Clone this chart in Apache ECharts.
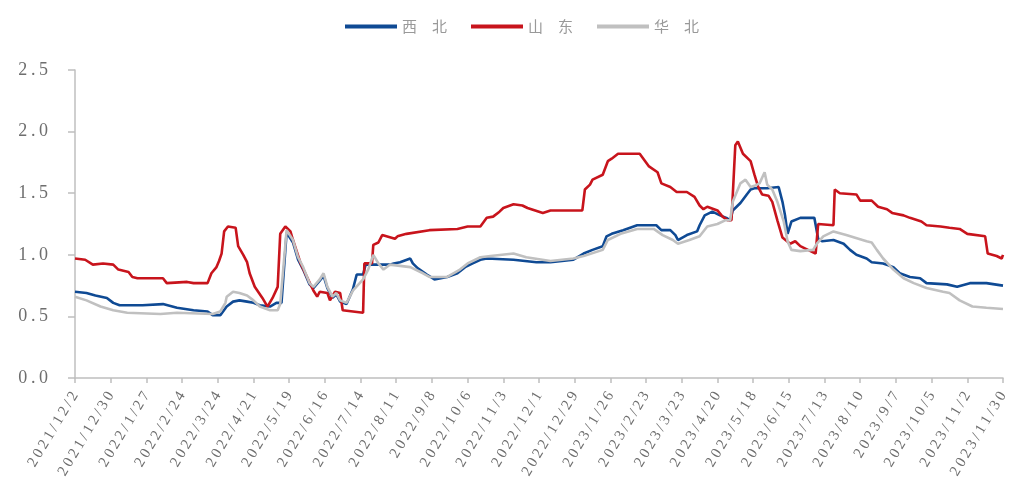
<!DOCTYPE html>
<html>
<head>
<meta charset="utf-8">
<script src="https://cdn.jsdelivr.net/npm/echarts/dist/echarts.min.js"></script>
<style>html,body{margin:0;padding:0;background:#fff;}#c{width:1009px;height:498px;}</style>
</head>
<body>
<div id="c"></div>
<script>
// Day offsets from 2021/12/2
const tickLabels = ['2021/12/2','2021/12/30','2022/1/27','2022/2/24','2022/3/24','2022/4/21','2022/5/19','2022/6/16','2022/7/14','2022/8/11','2022/9/8','2022/10/6','2022/11/3','2022/12/1','2022/12/29','2023/1/26','2023/2/23','2023/3/23','2023/4/20','2023/5/18','2023/6/15','2023/7/13','2023/8/10','2023/9/7','2023/10/5','2023/11/2','2023/11/30'];
const seriesNames = ['西北','山东','华北'];

const xbDays = [0,9,16,25,30,35,53,69,80,93,104,108,114,119,124,129,135,140,145,153,158,162,166,171,175,179,184,187,192,195,198,202,205,208,213,218,221,226,228,239,247,250,255,263,265,269,276,282,292,300,306,312,318,323,344,362,373,391,399,406,414,417,421,430,441,456,460,467,471,473,480,488,490,494,500,506,511,514,516,522,527,530,533,543,552,555,557,559,562,569,580,583,586,595,603,608,613,621,625,634,642,647,655,663,668,684,692,702,715,728];
const xbVals = [0.70,0.69,0.67,0.65,0.61,0.59,0.59,0.60,0.57,0.55,0.54,0.51,0.51,0.58,0.62,0.63,0.62,0.61,0.59,0.58,0.61,0.61,1.18,1.10,0.96,0.88,0.76,0.73,0.79,0.83,0.73,0.65,0.68,0.62,0.60,0.72,0.84,0.84,0.92,0.92,0.92,0.93,0.94,0.97,0.93,0.89,0.84,0.80,0.82,0.85,0.90,0.93,0.96,0.97,0.96,0.94,0.94,0.96,1.01,1.04,1.07,1.15,1.17,1.20,1.24,1.24,1.20,1.20,1.16,1.12,1.16,1.19,1.24,1.32,1.35,1.32,1.30,1.28,1.36,1.42,1.49,1.53,1.54,1.54,1.55,1.43,1.32,1.17,1.27,1.30,1.30,1.13,1.11,1.12,1.09,1.04,1.00,0.97,0.94,0.93,0.90,0.85,0.82,0.81,0.77,0.76,0.74,0.77,0.77,0.75];

const sdDays = [0,8,14,22,30,34,42,45,49,69,72,88,93,104,107,111,113,115,117,120,126,128,132,135,137,141,147,151,155,159,161,165,169,171,177,182,187,190,192,198,200,204,208,210,226,227,233,234,238,241,251,253,260,278,300,308,318,323,328,333,336,344,351,355,367,373,398,400,404,406,414,418,421,426,443,450,457,460,467,472,480,486,490,493,496,504,508,512,515,518,520,524,530,533,536,539,544,547,551,555,561,565,569,575,581,582,583,595,596,600,613,616,625,630,637,641,650,655,664,668,679,686,694,700,714,716,723,727,728];
const sdVals = [0.97,0.96,0.92,0.93,0.92,0.88,0.86,0.82,0.81,0.81,0.77,0.78,0.77,0.77,0.85,0.90,0.95,1.01,1.19,1.23,1.22,1.07,1.00,0.94,0.85,0.74,0.65,0.58,0.65,0.74,1.17,1.23,1.19,1.12,0.93,0.82,0.71,0.66,0.70,0.69,0.63,0.70,0.69,0.55,0.53,0.93,0.93,1.08,1.10,1.16,1.13,1.15,1.17,1.20,1.21,1.23,1.23,1.30,1.31,1.35,1.38,1.41,1.40,1.38,1.34,1.36,1.36,1.53,1.57,1.61,1.65,1.76,1.78,1.82,1.82,1.72,1.67,1.58,1.55,1.51,1.51,1.47,1.40,1.37,1.39,1.36,1.31,1.28,1.28,1.89,1.92,1.82,1.76,1.65,1.55,1.49,1.48,1.43,1.28,1.14,1.09,1.11,1.07,1.04,1.01,1.01,1.25,1.24,1.53,1.50,1.49,1.44,1.44,1.39,1.37,1.34,1.32,1.30,1.27,1.24,1.23,1.22,1.21,1.17,1.15,1.01,0.99,0.97,1.00];

const hbDays = [0,9,20,30,41,67,80,108,114,118,119,124,129,135,140,145,153,159,161,166,171,175,179,184,187,192,195,198,202,205,208,213,218,226,230,234,238,242,247,255,263,273,278,292,302,308,318,326,344,354,373,391,399,414,418,428,441,454,461,469,473,482,490,496,504,510,514,516,522,526,530,533,537,541,543,547,551,556,559,562,569,579,582,587,595,605,621,625,629,634,642,650,658,668,681,686,694,704,715,728];
const hbVals = [0.66,0.63,0.58,0.55,0.53,0.52,0.53,0.52,0.54,0.61,0.66,0.70,0.69,0.67,0.63,0.58,0.55,0.55,0.60,1.20,1.12,0.98,0.90,0.77,0.74,0.80,0.85,0.74,0.66,0.69,0.63,0.61,0.71,0.80,0.88,1.00,0.93,0.88,0.92,0.91,0.90,0.85,0.82,0.82,0.88,0.93,0.98,0.99,1.01,0.98,0.95,0.97,0.99,1.04,1.12,1.17,1.21,1.21,1.16,1.12,1.09,1.12,1.15,1.23,1.25,1.28,1.28,1.43,1.58,1.61,1.55,1.56,1.58,1.67,1.57,1.53,1.43,1.27,1.11,1.04,1.03,1.04,1.09,1.15,1.19,1.16,1.11,1.10,1.04,0.97,0.88,0.81,0.77,0.73,0.70,0.69,0.63,0.58,0.57,0.56];

function pairs(d, v) { return d.map((x, i) => [x, v[i]]); }
const spaced = s => s.split('').join('\u2009');

const chart = echarts.init(document.getElementById('c'), null, {renderer: 'canvas'});
const colors = ['#0f4a94', '#c8141c', '#c0c0c0'];
chart.setOption({
  animation: false,
  color: colors,
  legend: {
    left: 340, top: 14,
    itemWidth: 52, itemHeight: 4, itemGap: 24,
    icon: 'rect',
    textStyle: {color: '#999', fontSize: 15, fontFamily: 'Noto Sans CJK SC'},
    formatter: n => n.split('').join('\u3000'),
    data: seriesNames
  },
  grid: {left: 75, right: 6, top: 70, bottom: 120, containLabel: false, outerBoundsMode: 'none'},
  xAxis: {
    type: 'value', min: 0, max: 728, interval: 28,
    axisLine: {show: true, lineStyle: {color: '#bfbfbf', width: 1.5}},
    axisTick: {show: true, length: 5, lineStyle: {color: '#bfbfbf', width: 1.5}},
    splitLine: {show: false},
    axisLabel: {
      rotate: 59, margin: 15, color: '#6e6e6e', fontSize: 15, fontFamily: 'Liberation Serif',
      showMinLabel: true, showMaxLabel: true, hideOverlap: false,
      formatter: v => { const i = Math.round(v / 28); return spaced(tickLabels[i] || ''); }
    }
  },
  yAxis: {
    type: 'value', min: 0, max: 2.5, interval: 0.5,
    axisLine: {show: true, lineStyle: {color: '#bfbfbf', width: 1.5}},
    axisTick: {show: true, length: 7, lineStyle: {color: '#bfbfbf', width: 1.5}},
    splitLine: {show: false},
    axisLabel: {
      margin: 27, color: '#6e6e6e', fontSize: 18, fontFamily: 'Liberation Serif',
      formatter: v => spaced(v.toFixed(1))
    }
  },
  series: [
    {name: seriesNames[0], type: 'line', data: pairs(xbDays, xbVals), showSymbol: false, symbol: 'none', lineStyle: {width: 2.6, color: colors[0]}, z: 3},
    {name: seriesNames[1], type: 'line', data: pairs(sdDays, sdVals), showSymbol: false, symbol: 'none', lineStyle: {width: 2.6, color: colors[1]}, z: 4},
    {name: seriesNames[2], type: 'line', data: pairs(hbDays, hbVals), showSymbol: false, symbol: 'none', lineStyle: {width: 2.6, color: colors[2]}, z: 5}
  ]
});
</script>
</body>
</html>
